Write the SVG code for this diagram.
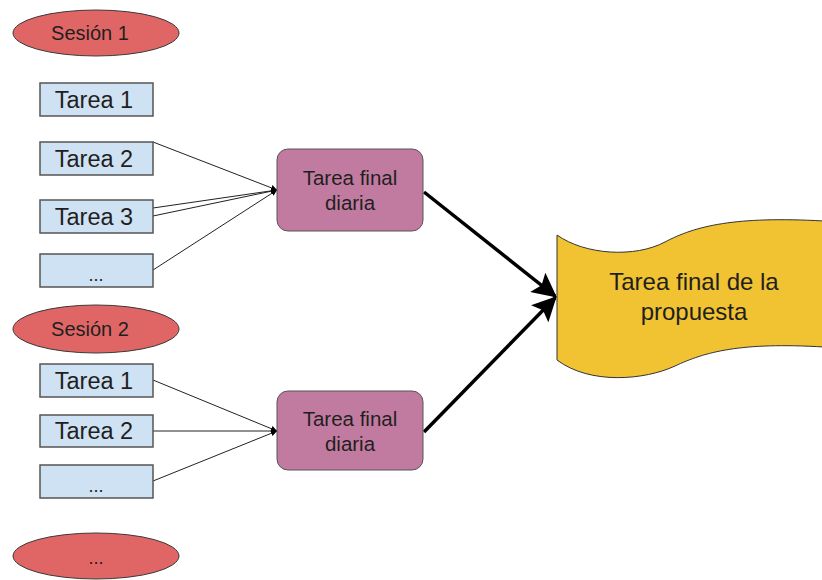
<svg xmlns="http://www.w3.org/2000/svg" width="822" height="580" viewBox="0 0 822 580">
<defs>
<style>
text{font-family:"Liberation Sans",Arial,sans-serif;fill:#1f1f1f;text-anchor:middle}
.ses{fill:#e06666;stroke:#3a3a3a;stroke-width:1}
.task{fill:#cfe2f3;stroke:#555;stroke-width:1.5}
.daily{fill:#c27ba0;stroke:#555;stroke-width:1}
.thin{stroke:#222;stroke-width:1;fill:none}
.thick{stroke:#000;stroke-width:3.5;fill:none}
.tk{font-size:23.5px}
.ts{font-size:20px}
.td{font-size:20.5px}
.ty{font-size:24px}
.dots{font-size:18px}
</style>
<marker id="sm" viewBox="0 0 10 10" refX="10" refY="5" markerWidth="6" markerHeight="6" markerUnits="userSpaceOnUse" orient="auto"><path d="M0,0 L10,5 L0,10 Z" fill="#000"/></marker>
<marker id="lg" viewBox="0 0 10 10" refX="9" refY="5" markerWidth="7" markerHeight="7" orient="auto"><path d="M0,0 L10,5 L0,10 L2,5 Z" fill="#000"/></marker>
</defs>
<rect width="822" height="580" fill="#fff"/>
<g id="connectors">
<line class="thin" x1="153" y1="142" x2="277" y2="190" marker-end="url(#sm)"/>
<line class="thin" x1="153" y1="208" x2="277" y2="190" marker-end="url(#sm)"/>
<line class="thin" x1="153" y1="216" x2="277" y2="190" marker-end="url(#sm)"/>
<line class="thin" x1="153" y1="270" x2="277" y2="190" marker-end="url(#sm)"/>
<line class="thin" x1="153" y1="380" x2="277" y2="431" marker-end="url(#sm)"/>
<line class="thin" x1="153" y1="431" x2="277" y2="431" marker-end="url(#sm)"/>
<line class="thin" x1="153" y1="481" x2="277" y2="431" marker-end="url(#sm)"/>
<line class="thick" x1="424" y1="192" x2="555" y2="296" marker-end="url(#lg)"/>
<line class="thick" x1="424" y1="432" x2="555" y2="298" marker-end="url(#lg)"/>
</g>
<g id="sesion1"><ellipse class="ses" cx="96" cy="33" rx="83" ry="23"/><text class="ts" x="90" y="40">Sesión 1</text></g>
<g id="s1t1"><rect class="task" x="40" y="83" width="113" height="33"/><text class="tk" x="94" y="108">Tarea 1</text></g>
<g id="s1t2"><rect class="task" x="40" y="142" width="113" height="33"/><text class="tk" x="94" y="167">Tarea 2</text></g>
<g id="s1t3"><rect class="task" x="40" y="200" width="113" height="33"/><text class="tk" x="94" y="225">Tarea 3</text></g>
<g id="s1t4"><rect class="task" x="40" y="254" width="113" height="33"/><text class="dots" x="96" y="281">...</text></g>
<g id="sesion2"><ellipse class="ses" cx="96" cy="329" rx="83" ry="24"/><text class="ts" x="90" y="336">Sesión 2</text></g>
<g id="s2t1"><rect class="task" x="40" y="364" width="113" height="33"/><text class="tk" x="94" y="389">Tarea 1</text></g>
<g id="s2t2"><rect class="task" x="40" y="415" width="113" height="32"/><text class="tk" x="94" y="439">Tarea 2</text></g>
<g id="s2t3"><rect class="task" x="40" y="465" width="113" height="33"/><text class="dots" x="96" y="492">...</text></g>
<g id="sesion3"><ellipse class="ses" cx="96" cy="556" rx="83" ry="23"/><text class="dots" x="96" y="564">...</text></g>
<g id="final1"><rect class="daily" x="277" y="149" width="146" height="82" rx="11"/><text class="td" x="350" y="185">Tarea final</text><text class="td" x="350" y="210">diaria</text></g>
<g id="final2"><rect class="daily" x="277" y="391" width="146" height="79" rx="11"/><text class="td" x="350" y="426">Tarea final</text><text class="td" x="350" y="451">diaria</text></g>
<g id="propuesta"><path d="M557,235 C585,255 635,258 665,242 C695,226 735,216 824,221 L824,347 C740,342 705,352 675,366 C645,380 590,385 557,360 Z" fill="#f1c232" stroke="#333" stroke-width="1"/>
<text class="ty" x="694" y="290">Tarea final de la</text><text class="ty" x="694" y="320">propuesta</text></g>
</svg>
